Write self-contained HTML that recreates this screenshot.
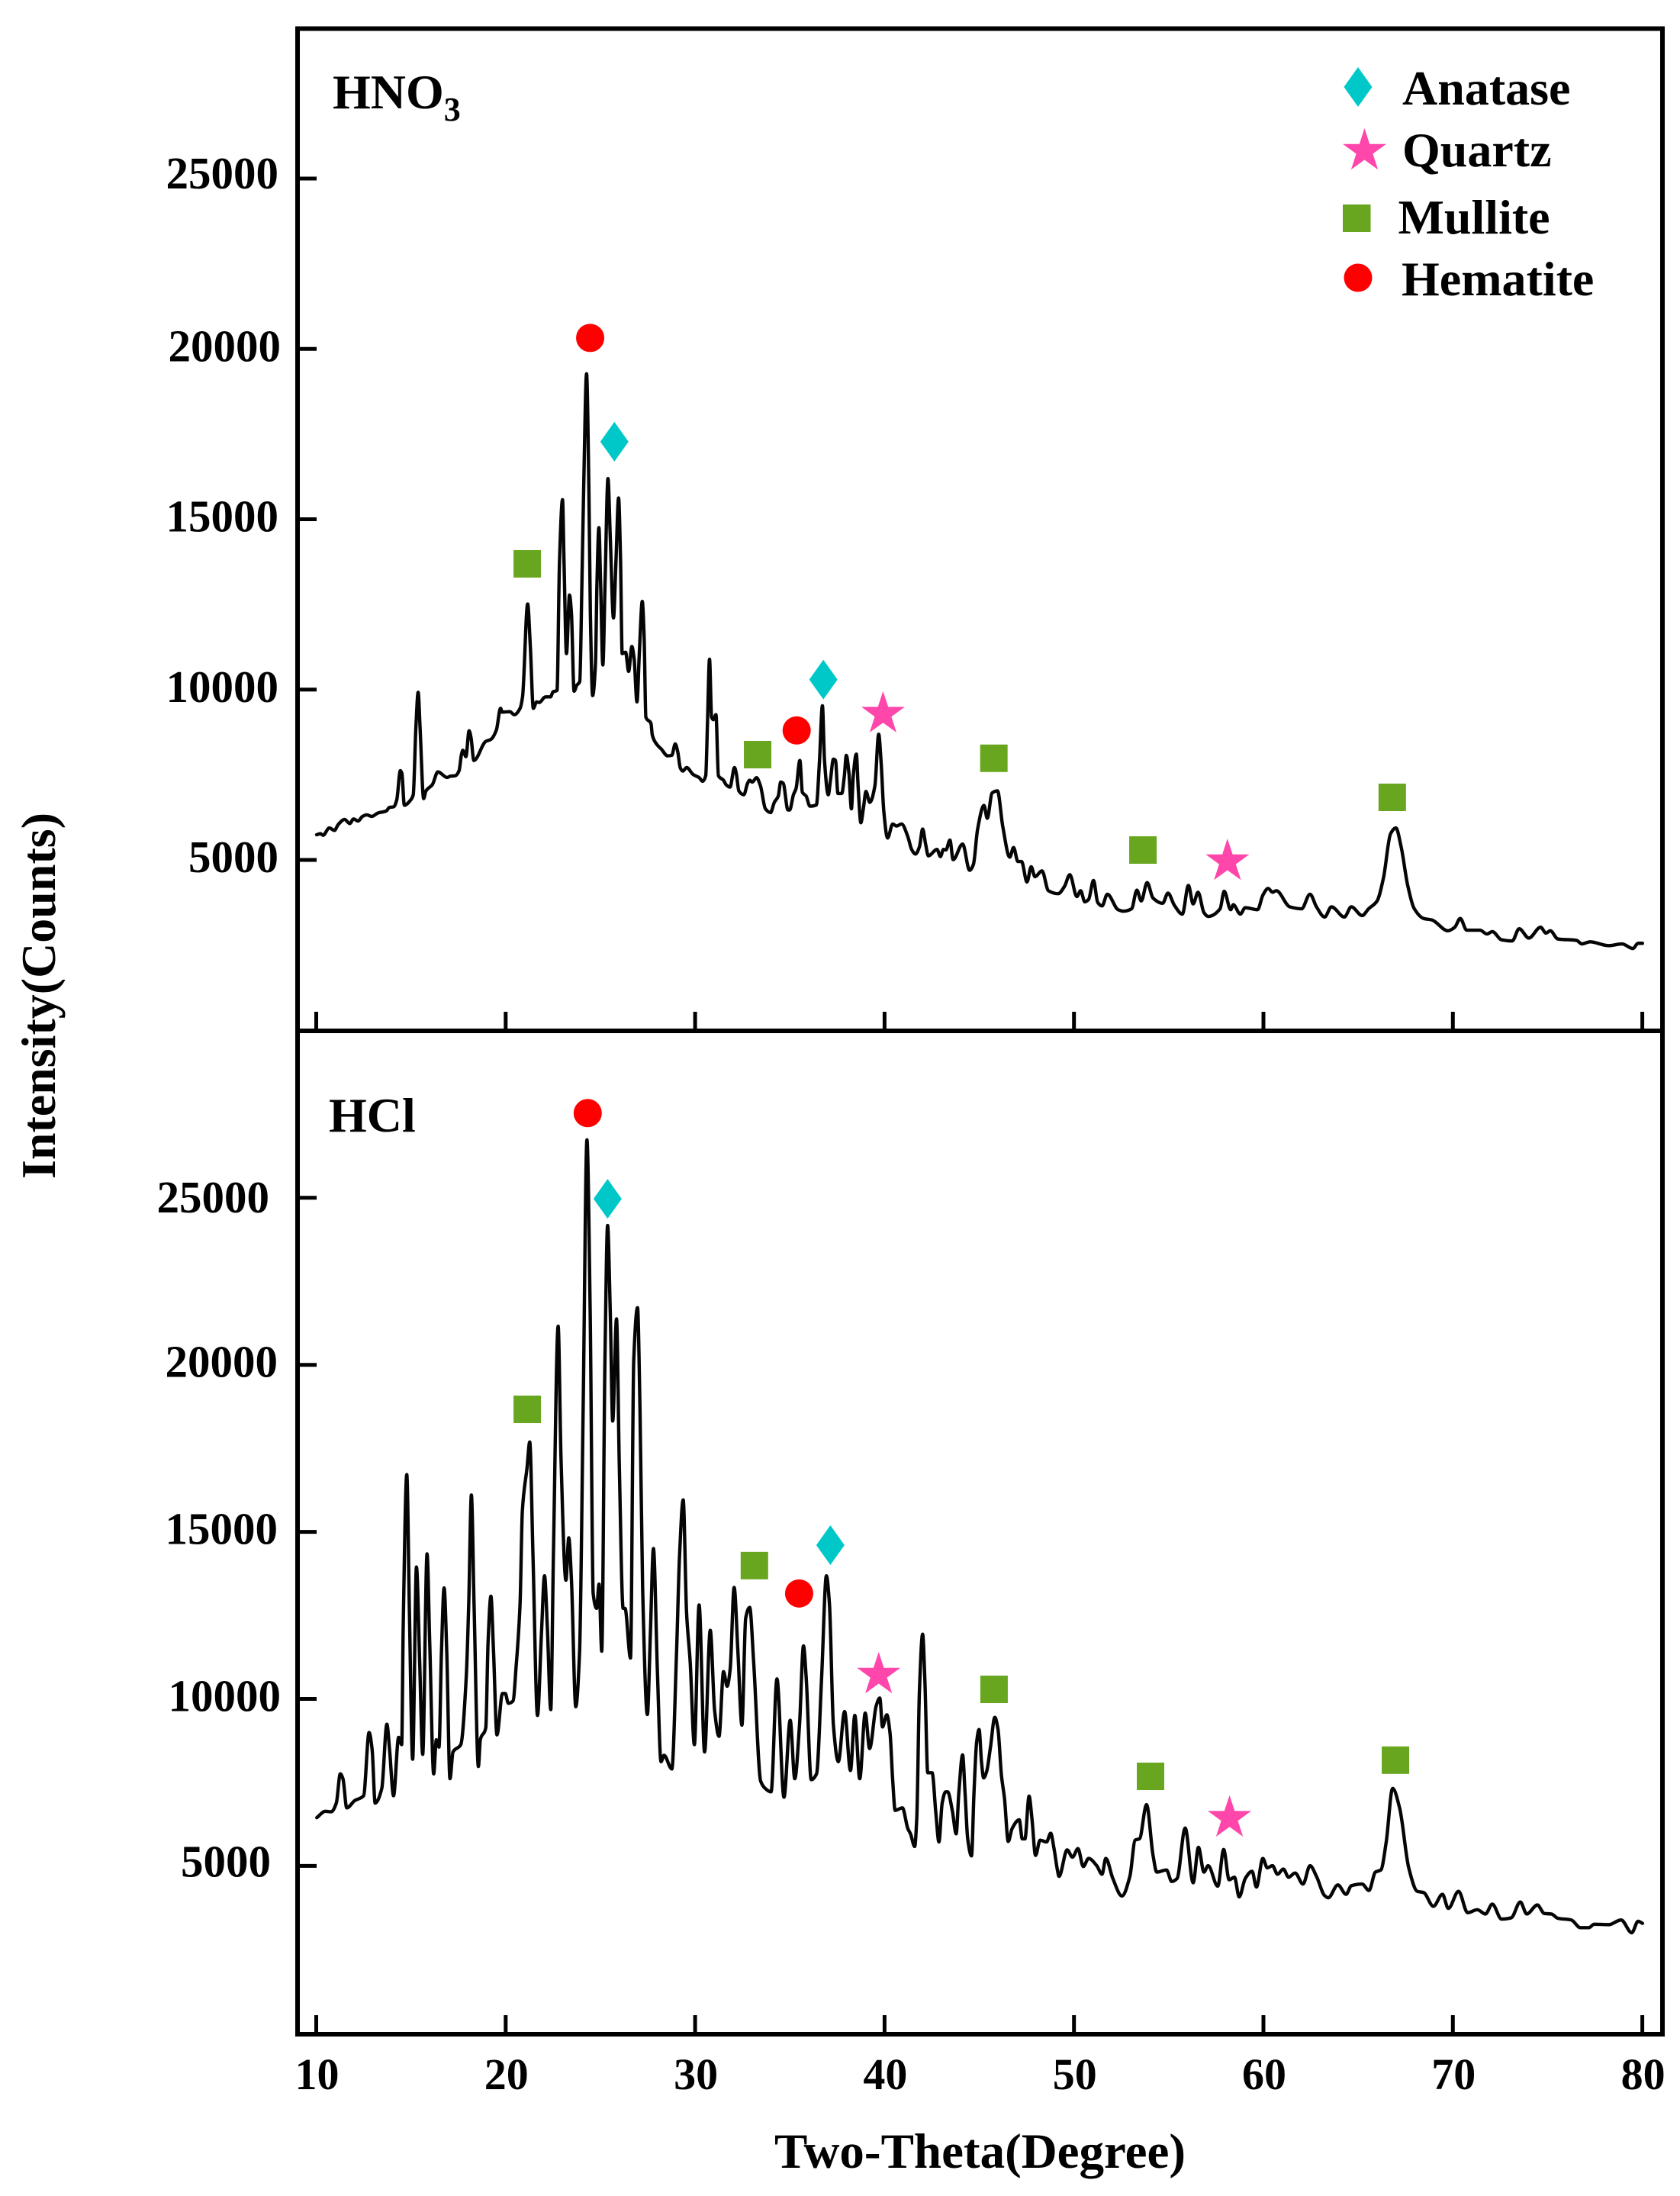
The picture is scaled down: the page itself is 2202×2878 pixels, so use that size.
<!DOCTYPE html>
<html lang="en">
<head>
<meta charset="utf-8">
<title>XRD patterns of HNO3 and HCl samples</title>
<style>
html,body{margin:0;padding:0;background:#fff;}
svg{display:block;}
text{font-family:"Liberation Serif",serif;font-weight:bold;fill:#000;}
</style>
</head>
<body>
<svg id="chart" xmlns="http://www.w3.org/2000/svg" width="2202" height="2878" viewBox="0 0 2202 2878">
  <rect x="0" y="0" width="2202" height="2878" fill="#fff"/>
  <g id="ticks"></g>
  <g id="series"></g>
  <g id="markers"></g>
  <rect x="390" y="37.5" width="1789" height="2628.5" fill="none" stroke="#000" stroke-width="6"/>
  <line x1="390" y1="1351" x2="2179" y2="1351" stroke="#000" stroke-width="6"/>
  <text x="436" y="142" font-size="64">HNO<tspan font-size="44" dy="16">3</tspan></text>
  <text x="431" y="1483" font-size="64">HCl</text>
  <text transform="translate(72,1305) rotate(-90)" text-anchor="middle" font-size="64">Intensity(Counts)</text>
  <text x="1284.5" y="2841" text-anchor="middle" font-size="65">Two-Theta(Degree)</text>
  <g>
    <polygon points="1780,88 1798.5,114 1780,140 1761.5,114" fill="#00c8c8"/>
    <text x="1838" y="137" font-size="64">Anatase</text>
    <polygon points="1788.5,168 1795.2,188.7 1817,188.7 1799.4,201.5 1806.1,222.3 1788.5,209.5 1770.9,222.3 1777.6,201.5 1760,188.7 1781.8,188.7" fill="#ff46aa"/>
    <text x="1838" y="218" font-size="64">Quartz</text>
    <rect x="1760" y="268" width="36.5" height="36" fill="#68a61f"/>
    <text x="1832.5" y="306" font-size="64">Mullite</text>
    <circle cx="1780" cy="364" r="18.5" fill="#ff0000"/>
    <text x="1837" y="387" font-size="64">Hematite</text>
  </g>
</svg>
<script>
const xTickValues = [10,20,30,40,50,60,70,80];
const yTickValues = [5000,10000,15000,20000,25000];

const thetaHNO3 = [
10.02,10.22,10.36,10.69,10.96,11.16,11.50,11.77,11.97,12.21,
12.44,12.67,12.93,13.24,13.71,13.85,14.09,14.25,14.44,14.52,
14.65,14.99,15.12,15.26,15.38,15.48,15.67,15.79,16.13,16.42,
16.91,17.07,17.34,17.54,17.67,17.74,17.90,18.07,18.17,18.32,
18.95,19.22,19.51,19.73,19.82,20.22,20.45,20.76,20.89,21.16,
21.30,21.46,21.63,21.77,22.10,22.37,22.50,22.71,
22.84,23.00,23.08,23.21,23.37,23.47,23.61,23.75,23.91,24.02,
24.12,24.27,24.39,24.47,24.59,24.74,24.82,24.92,25.01,25.13,
25.25,25.40,25.52,25.69,25.82,25.96,26.06,26.15,26.33,26.49,
26.66,26.78,26.93,27.06,27.21,27.31,27.40,27.67,
27.74,28.01,28.21,28.55,28.77,28.95,29.08,29.22,29.35,29.55,
29.89,30.22,30.39,30.56,30.65,30.76,30.87,30.96,31.10,31.23,
31.50,31.63,31.84,32.08,32.17,32.31,32.57,32.77,32.88,33.02,
33.24,33.45,33.71,33.98,34.18,34.39,34.52,34.65,34.90,34.99,
35.19,35.33,35.53,35.66,35.86,36.06,36.40,36.56,36.72,36.83,
37.03,37.14,37.30,37.41,37.54,37.74,37.88,37.98,38.12,38.25,
38.35,38.51,38.61,38.75,38.88,39.02,39.22,39.49,39.69,39.82,
39.96,40.16,40.43,40.63,40.90,41.23,41.43,41.63,41.84,42.01,
42.17,42.31,42.77,42.95,43.11,43.24,43.45,43.62,
44.12,44.49,44.69,44.91,45.25,45.42,45.68,45.96,46.24,46.61,
46.81,47.04,47.23,47.52,47.74,47.94,48.31,48.65,49.16,49.50,
49.78,50.15,50.35,50.57,50.77,51.03,51.25,51.48,51.76,52.33,
52.61,53.04,53.32,53.55,53.86,54.17,54.68,54.96,55.30,55.72,
56.04,56.29,56.55,56.86,57.08,57.71,57.93,58.27,58.41,58.78,
59.04,59.69,59.97,60.25,60.48,60.68,61.39,62.01,62.46,62.80,
63.23,63.59,64.27,64.64,65.21,65.55,66.00,66.34,66.71,66.99,
67.27,67.61,67.95,68.46,68.89,69.74,70.10,70.39,70.73,71.43,
71.80,72.08,72.57,73.13,73.50,74.01,74.63,74.92,75.14,75.54,
76.53,76.81,77.24,78.23,78.93,79.50,79.78,80.01
];
const countsHNO3 = [
5740,5770,5725,5940,5867,6039,6188,6068,6203,6143,
6277,6322,6277,6374,6442,6539,6561,6763,7621,7546,
6606,6763,6912,8890,9920,8890,6800,7024,7210,7584,
7420,7457,7472,7621,8106,8218,8032,8793,8592,7920,
8480,8539,8816,9450,9338,9353,9263,9450,9786,12511,
11279,9450,9637,9622,9786,9786,9935,9973,
13745,15574,13745,11058,12775,12252,9953,10124,10236,13000,
15985,19269,15985,12252,9826,10759,13148,14753,13148,10722,
13222,16193,14491,12103,13745,15626,13894,11058,11095,10535,
11266,10908,9639,11132,12588,11505,9191,9005,
8667,8369,8257,8055,8070,8406,8182,7697,7607,7712,
7510,7413,7308,7473,8966,10892,9190,9115,9264,7473,
7338,7211,7137,7712,7547,7025,6913,7249,7338,7286,
7413,7174,6502,6390,6689,6875,7286,7249,6465,6465,
6913,7100,7921,6987,6875,6577,6614,7846,9526,7921,
6913,7323,7958,7921,6950,6950,7473,8070,7547,6502,
7473,8107,7100,6092,6502,7010,6689,7174,8689,7846,
6427,5644,6054,5995,6054,5681,5308,5173,5383,5905,
5457,5121,5308,5099,5308,5293,5584,5009,
5467,4696,4867,5896,6599,6222,6968,7027,5982,5082,
5364,4953,4953,4353,4799,4507,4679,4096,4010,4224,
4567,3924,4096,3770,3839,4396,3753,3650,3993,3539,
3496,3565,4113,3796,4336,3882,3727,4027,3667,3410,
4250,3710,4053,3453,3342,3565,4079,3539,3684,3410,
3599,3539,3967,4164,4053,4096,3624,3565,3993,3624,
3324,3624,3324,3624,3367,3565,3796,4482,5767,5939,
5382,4267,3582,3282,3239,2921,3024,3282,2939,2939,
2827,2896,2656,2622,2981,2707,3024,2853,2921,2681,
2638,2536,2596,2484,2536,2399,2553,2553
];

const thetaHCl = [
10.03,10.48,10.79,11.06,11.27,11.41,11.61,12.03,12.50,12.79,
12.95,13.11,13.46,13.73,13.87,14.08,14.35,14.51,14.59,14.78,
14.92,15.09,15.29,15.46,15.62,15.85,15.99,16.20,16.34,16.48,
16.61,16.75,16.89,17.06,17.22,17.63,17.92,18.05,18.19,18.33,
18.56,18.66,18.95,19.07,19.22,19.36,19.54,19.83,19.98,20.14,
20.39,20.55,20.76,20.88,21.13,21.27,21.44,21.68,21.89,22.05,
22.20,22.38,22.52,22.77,22.92,23.18,23.33,23.47,23.70,23.90,
24.09,24.29,24.46,24.62,24.80,24.93,25.07,25.24,25.38,25.52,
25.65,25.85,26.00,26.20,26.30,26.59,26.76,26.96,27.09,27.23,
27.48,27.64,27.80,28.01,28.20,28.36,28.77,29.02,29.18,29.37,
29.55,29.74,29.96,30.21,30.50,30.80,31.03,31.26,31.50,31.69,
31.85,32.06,32.26,32.47,32.67,32.88,33.09,33.46,33.70,34.01,
34.32,34.69,35.02,35.26,35.51,35.72,35.86,36.13,36.41,36.68,
36.93,37.09,37.30,37.56,37.89,38.20,38.43,38.69,38.98,39.21,
39.56,
39.75,39.89,40.12,40.29,40.43,40.56,40.94,41.23,41.37,41.59,
41.70,41.84,42.01,42.13,42.28,42.51,42.71,42.87,43.04,43.22,
43.33,43.58,43.78,43.92,44.12,44.25,44.39,44.59,44.72,44.86,
44.99,45.12,45.23,45.39,45.59,45.82,45.99,46.17,46.33,46.53,
46.73,47.11,47.27,47.41,47.63,47.78,47.97,48.21,48.55,48.77,
48.95,49.12,
49.21,49.64,49.92,50.21,50.49,50.77,51.20,51.48,51.68,52.05,
52.53,52.95,53.23,53.46,53.83,54.17,54.37,54.88,55.16,55.44,
55.87,56.29,56.57,56.86,57.08,57.59,57.90,58.19,58.47,58.72,
59.04,59.40,59.63,59.97,60.20,60.48,60.74,61.05,61.33,61.67,
62.09,62.46,62.80,63.23,63.42,63.93,64.36,64.64,65.21,65.57,
65.91,66.20,66.48,66.82,67.19,67.67,68.12,68.46,68.97,69.45,
69.76,70.30,70.78,71.29,71.72,72.08,72.57,73.08,73.56,73.90,
74.46,74.83,75.20,75.54,76.25,76.73,77.18,77.46,78.23,78.88,
79.44,79.78,80.01
];
const countsHCl = [
6445,6635,6620,6882,7756,7611,6737,6955,7101,8994,
8485,6882,7319,9242,8485,7101,8849,8630,12126,16714,
12563,8193,13947,11106,8339,14340,11689,7756,8776,8557,
11398,13321,11398,7611,8412,8630,10669,12854,16103,12854,
7975,8776,9140,11689,13073,11398,8922,10160,10160,9868,
9941,10961,12854,15622,16933,17690,14311,9504,11980,13685,
12126,9679,14311,21157,17224,13554,14821,13583,9766,11398,
18681,26736,21594,13146,12709,13437,11427,20137,24172,21594,
18317,21376,16933,12709,12709,11223,20137,21711,18681,13291,
9533,11980,14500,10815,8120,8310,7902,11398,14311,15957,
12563,11106,8630,12811,8412,12053,9650,8878,10815,10378,
10888,13335,11398,9213,12417,12738,11106,7538,7319,7217,
10597,7057,9359,7611,9213,11587,10669,7582,7756,10669,
13685,12854,9213,8120,9621,7858,9504,7611,9577,8514,
9796,
10027,9159,9524,8968,7560,6662,6738,6114,5961,5581,
6418,10225,11937,10529,7788,7788,6570,5718,6875,7217,
7217,6646,5961,7179,8321,7179,5809,5299,7179,8702,
9083,8093,7636,7827,8550,9448,9083,7712,7027,5733,
6114,6380,5809,5809,7088,6418,5314,5771,5718,5977,
5505,4895,
4687,5480,5262,5518,4981,5224,5007,4751,5224,4623,
4099,4687,5774,5812,6835,5326,4815,4879,4533,4623,
6132,4495,5556,4815,5007,4393,5492,4585,4661,4073,
4623,4840,4367,5224,4943,5007,4751,4904,4661,4789,
4457,5007,4687,4111,4047,4431,4150,4406,4457,4265,
4815,4879,5710,7321,6733,4943,4239,4201,3792,4150,
3728,4239,3600,3689,3561,3856,3408,3446,3920,3561,
3830,3574,3561,3434,3382,3152,3152,3255,3242,3382,
2999,3344,3280
];

const hematiteThetaHNO3 = [24.46,35.36];
const hematiteCountsHNO3 = [20322,8801];
const anataseThetaHNO3 = [25.74,36.77];
const anataseCountsHNO3 = [17275,10293];
const mulliteThetaHNO3 = [21.14,33.30,45.77,53.64,66.80];
const mulliteCountsHNO3 = [13691,8091,7984,5291,6837];
const quartzThetaHNO3 = [39.92,58.10];
const quartzCountsHNO3 = [9285,4955];

const hematiteThetaHCl = [24.33,35.49];
const hematiteCountsHCl = [27536,13156];
const anataseThetaHCl = [25.38,37.14];
const anataseCountsHCl = [24971,14602];
const mulliteThetaHCl = [21.14,33.13,45.78,54.04,66.97];
const mulliteCountsHCl = [18668,13990,10285,7681,8166];
const quartzThetaHCl = [39.69,58.21];
const quartzCountsHCl = [10719,6432];

const NS = 'http://www.w3.org/2000/svg';
const xScale = function (t) { return 414.5 + (t - 10) * 24.83; };
const yScaleHNO3 = function (v) { return 1127 - (v - 5000) * 0.04465; };
const yScaleHCl = function (v) { return 2445.4 - (v - 5000) * 0.04378; };

const ticksLayer = document.getElementById('ticks');
const seriesLayer = document.getElementById('series');
const markersLayer = document.getElementById('markers');

function makeSvg(tag, attrs, text) {
  const node = document.createElementNS(NS, tag);
  Object.keys(attrs).forEach(function (k) { node.setAttribute(k, attrs[k]); });
  if (text !== undefined) node.textContent = text;
  return node;
}

function drawAxes(panel, yScale, baseY, labelRight, nudgeX, nudgeY) {
  xTickValues.forEach(function (t) {
    const tick = makeSvg('line', {x1: xScale(t), x2: xScale(t), y1: baseY - 25, y2: baseY, stroke: '#000', 'stroke-width': 5});
    
    
    ticksLayer.appendChild(tick);
  });
  yTickValues.forEach(function (v) {
    const tick = makeSvg('line', {x1: 390, x2: 415, y1: yScale(v), y2: yScale(v), stroke: '#000', 'stroke-width': 5});
    
    
    ticksLayer.appendChild(tick);
    const label = makeSvg('text', {x: labelRight + (nudgeX[v] || 0), y: yScale(v) + 16 + (nudgeY[v] || 0), 'text-anchor': 'end', 'font-size': 59}, String(v));
    
    
    ticksLayer.appendChild(label);
  });
}

// Monotone cubic path: rounded peaks without overshoot.
function monotonePath(xs, ys) {
  const n = xs.length;
  const slope = [];
  for (let i = 0; i < n - 1; i++) slope.push((ys[i + 1] - ys[i]) / (xs[i + 1] - xs[i]));
  const m = [slope[0]];
  for (let i = 1; i < n - 1; i++) {
    if (slope[i - 1] * slope[i] <= 0) {
      m.push(0);
    } else {
      const h0 = xs[i] - xs[i - 1], h1 = xs[i + 1] - xs[i];
      const w = (h0 + 2 * h1) / (3 * (h0 + h1));
      m.push(1 / (w / slope[i - 1] + (1 - w) / slope[i]));
    }
  }
  m.push(slope[n - 2]);
  let d = 'M' + xs[0].toFixed(2) + ' ' + ys[0].toFixed(2);
  for (let i = 0; i < n - 1; i++) {
    const h = (xs[i + 1] - xs[i]) / 3;
    d += 'C' + (xs[i] + h).toFixed(2) + ' ' + (ys[i] + m[i] * h).toFixed(2) + ' ' +
         (xs[i + 1] - h).toFixed(2) + ' ' + (ys[i + 1] - m[i + 1] * h).toFixed(2) + ' ' +
         xs[i + 1].toFixed(2) + ' ' + ys[i + 1].toFixed(2);
  }
  return d;
}

function drawSeries(name, thetas, counts, yScale) {
  const d = monotonePath(thetas.map(xScale), counts.map(yScale));
  const line = makeSvg('path', {d: d, fill: 'none', stroke: '#050505', 'stroke-width': 4.4, 'stroke-linejoin': 'round', 'stroke-linecap': 'round'});
  
  
  seriesLayer.appendChild(line);
}

function starPoints(cx, cy) {
  const pts = [];
  for (let i = 0; i < 10; i++) {
    const r = i % 2 ? 11.5 : 30;
    const a = -Math.PI / 2 + i * Math.PI / 5;
    pts.push((cx + r * Math.cos(a)).toFixed(1) + ',' + (cy + r * Math.sin(a)).toFixed(1));
  }
  return pts.join(' ');
}

function drawHematite(panel, thetas, counts, yScale) {
  thetas.forEach(function (t, i) {
    const el = makeSvg('circle', {cx: xScale(t), cy: yScale(counts[i]), r: 18.5, fill: '#ff0000'});
    
    
    markersLayer.appendChild(el);
  });
}
function drawAnatase(panel, thetas, counts, yScale) {
  thetas.forEach(function (t, i) {
    const x = xScale(t), y = yScale(counts[i]);
    const el = makeSvg('polygon', {points: x + ',' + (y - 26) + ' ' + (x + 18.5) + ',' + y + ' ' + x + ',' + (y + 26) + ' ' + (x - 18.5) + ',' + y, fill: '#00c8c8'});
    
    
    markersLayer.appendChild(el);
  });
}
function drawMullite(panel, thetas, counts, yScale) {
  thetas.forEach(function (t, i) {
    const el = makeSvg('rect', {x: xScale(t) - 18, y: yScale(counts[i]) - 18, width: 36, height: 36, fill: '#68a61f'});
    
    
    markersLayer.appendChild(el);
  });
}
function drawQuartz(panel, thetas, counts, yScale) {
  thetas.forEach(function (t, i) {
    const el = makeSvg('polygon', {points: starPoints(xScale(t), yScale(counts[i])), fill: '#ff46aa'});
    
    
    markersLayer.appendChild(el);
  });
}

drawAxes('hno3', yScaleHNO3, 1351, 365, {20000: 3}, {25000: -3});
drawAxes('hcl', yScaleHCl, 2666, 364, {5000: -9, 10000: 4, 25000: -11}, {25000: 3, 5000: -2});

xTickValues.forEach(function (t) {
  const label = makeSvg('text', {x: xScale(t) + 1, y: 2738, 'text-anchor': 'middle', 'font-size': 58}, String(t));
  
  
  ticksLayer.appendChild(label);
});

drawSeries('hno3-xrd-curve', thetaHNO3, countsHNO3, yScaleHNO3);
drawSeries('hcl-xrd-curve', thetaHCl, countsHCl, yScaleHCl);

drawHematite('hno3', hematiteThetaHNO3, hematiteCountsHNO3, yScaleHNO3);
drawAnatase('hno3', anataseThetaHNO3, anataseCountsHNO3, yScaleHNO3);
drawMullite('hno3', mulliteThetaHNO3, mulliteCountsHNO3, yScaleHNO3);
drawQuartz('hno3', quartzThetaHNO3, quartzCountsHNO3, yScaleHNO3);

drawHematite('hcl', hematiteThetaHCl, hematiteCountsHCl, yScaleHCl);
drawAnatase('hcl', anataseThetaHCl, anataseCountsHCl, yScaleHCl);
drawMullite('hcl', mulliteThetaHCl, mulliteCountsHCl, yScaleHCl);
drawQuartz('hcl', quartzThetaHCl, quartzCountsHCl, yScaleHCl);
</script>
</body>
</html>
